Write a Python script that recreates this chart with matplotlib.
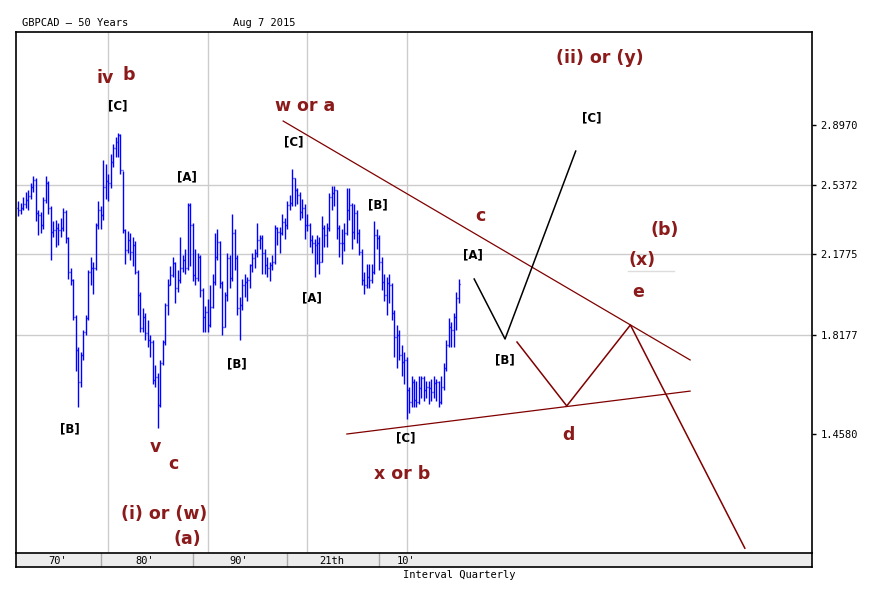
import numpy as np
import matplotlib
matplotlib.use('Agg')
import matplotlib.pyplot as plt

# quarterly GBPCAD, 1971 Q1 .. 2015 Q3
closes = [2.400, 2.411, 2.432, 2.454, 2.476, 2.526, 2.566, 2.384, 2.373, 2.321,
          2.454, 2.548, 2.411, 2.285, 2.296, 2.306, 2.296, 2.306, 2.389, 2.255,
          2.092, 2.054, 1.893, 1.758, 1.638, 1.739, 1.830, 1.888, 2.092, 2.110,
          2.110, 2.321, 2.400, 2.373, 2.526, 2.560, 2.548, 2.670, 2.755, 2.792,
          2.835, 2.623, 2.296, 2.196, 2.245, 2.186, 2.220, 2.092, 1.987, 1.846,
          1.893, 1.826, 1.798, 1.790, 1.645, 1.656, 1.556, 1.709, 1.790, 1.943,
          2.032, 2.077, 2.134, 2.018, 2.054, 2.110, 2.148, 2.110, 2.427, 2.321,
          2.077, 2.063, 2.162, 2.009, 1.893, 1.914, 1.859, 1.935, 2.045, 2.162,
          2.235, 2.041, 1.851, 1.987, 2.158, 2.063, 2.280, 2.158, 1.930, 1.943,
          2.032, 2.045, 2.054, 2.124, 2.158, 2.182, 2.245, 2.255, 2.182, 2.124,
          2.110, 2.124, 2.138, 2.306, 2.285, 2.280, 2.337, 2.321, 2.427, 2.438,
          2.577, 2.509, 2.481, 2.389, 2.411, 2.321, 2.321, 2.245, 2.230, 2.220,
          2.230, 2.138, 2.306, 2.270, 2.306, 2.470, 2.492, 2.509, 2.306, 2.230,
          2.230, 2.280, 2.400, 2.427, 2.285, 2.384, 2.280, 2.186, 2.054, 2.032,
          2.068, 2.054, 2.092, 2.270, 2.255, 2.138, 2.045, 1.987, 2.041, 2.032,
          1.909, 1.810, 1.818, 1.739, 1.712, 1.720, 1.609, 1.567, 1.638, 1.574,
          1.567, 1.616, 1.652, 1.609, 1.620, 1.616, 1.602, 1.634, 1.638, 1.567,
          1.620, 1.690, 1.778, 1.851, 1.838, 1.893, 1.974, 2.036]
highs = [2.45, 2.44, 2.47, 2.50, 2.51, 2.55, 2.59, 2.58, 2.40, 2.39,
         2.47, 2.59, 2.56, 2.42, 2.34, 2.35, 2.33, 2.36, 2.41, 2.40,
         2.26, 2.11, 2.06, 1.90, 1.77, 1.75, 1.84, 1.90, 2.10, 2.16,
         2.14, 2.33, 2.45, 2.42, 2.68, 2.66, 2.60, 2.72, 2.78, 2.82,
         2.85, 2.84, 2.62, 2.30, 2.29, 2.28, 2.26, 2.24, 2.10, 2.00,
         1.93, 1.91, 1.88, 1.82, 1.80, 1.70, 1.67, 1.72, 1.80, 1.95,
         2.06, 2.12, 2.16, 2.14, 2.10, 2.26, 2.17, 2.20, 2.44, 2.44,
         2.33, 2.20, 2.18, 2.17, 2.02, 1.94, 1.97, 2.03, 2.08, 2.28,
         2.30, 2.24, 2.05, 2.00, 2.18, 2.17, 2.38, 2.30, 2.17, 1.98,
         2.06, 2.08, 2.07, 2.13, 2.18, 2.20, 2.33, 2.27, 2.27, 2.20,
         2.16, 2.14, 2.17, 2.32, 2.31, 2.31, 2.38, 2.36, 2.45, 2.48,
         2.63, 2.58, 2.52, 2.50, 2.46, 2.43, 2.38, 2.33, 2.27, 2.25,
         2.27, 2.26, 2.37, 2.32, 2.33, 2.49, 2.53, 2.53, 2.51, 2.32,
         2.30, 2.33, 2.52, 2.52, 2.44, 2.43, 2.40, 2.30, 2.20, 2.09,
         2.13, 2.13, 2.13, 2.34, 2.30, 2.27, 2.16, 2.08, 2.07, 2.08,
         2.04, 1.92, 1.86, 1.84, 1.78, 1.75, 1.73, 1.62, 1.66, 1.65,
         1.64, 1.66, 1.66, 1.66, 1.64, 1.64, 1.65, 1.66, 1.65, 1.64,
         1.66, 1.71, 1.80, 1.89, 1.87, 1.91, 2.00, 2.06]
lows = [2.37, 2.38, 2.40, 2.41, 2.40, 2.46, 2.50, 2.34, 2.27, 2.28,
        2.30, 2.44, 2.38, 2.15, 2.26, 2.21, 2.22, 2.26, 2.29, 2.23,
        2.06, 2.03, 1.88, 1.68, 1.55, 1.62, 1.72, 1.82, 1.88, 2.03,
        1.99, 2.10, 2.30, 2.30, 2.35, 2.46, 2.45, 2.52, 2.64, 2.70,
        2.70, 2.60, 2.28, 2.13, 2.18, 2.15, 2.12, 2.08, 1.90, 1.83,
        1.83, 1.80, 1.77, 1.73, 1.63, 1.62, 1.48, 1.55, 1.70, 1.78,
        1.90, 2.03, 2.07, 1.95, 2.00, 2.04, 2.09, 2.08, 2.10, 2.12,
        2.05, 2.03, 2.05, 1.98, 1.83, 1.83, 1.83, 1.85, 1.93, 2.03,
        2.15, 2.02, 1.82, 1.85, 1.96, 2.02, 2.05, 2.10, 1.90, 1.80,
        1.92, 1.98, 1.96, 2.02, 2.09, 2.11, 2.16, 2.20, 2.08, 2.08,
        2.07, 2.05, 2.10, 2.13, 2.22, 2.18, 2.27, 2.25, 2.30, 2.40,
        2.42, 2.42, 2.43, 2.35, 2.36, 2.25, 2.29, 2.21, 2.18, 2.07,
        2.13, 2.08, 2.14, 2.21, 2.21, 2.29, 2.40, 2.42, 2.25, 2.16,
        2.13, 2.19, 2.27, 2.35, 2.20, 2.25, 2.23, 2.17, 2.03, 1.99,
        2.02, 2.02, 2.04, 2.08, 2.20, 2.10, 2.01, 1.96, 1.90, 1.95,
        1.88, 1.73, 1.69, 1.72, 1.66, 1.63, 1.51, 1.53, 1.55, 1.55,
        1.55, 1.56, 1.58, 1.57, 1.58, 1.56, 1.57, 1.58, 1.57, 1.55,
        1.56, 1.61, 1.68, 1.77, 1.77, 1.77, 1.84, 1.95]
first_open = 2.41

# wave projections (year, price)
upper_line_x = [1997.6, 2038.5]
upper_line_y = [2.925, 1.720]
lower_line_x = [2004.0, 2038.5]
lower_line_y = [1.459, 1.605]
black_path_x = [2016.8, 2019.9, 2027.0]
black_path_y = [2.059, 1.802, 2.736]
brown_path_x = [2021.1, 2026.1, 2032.5, 2044.0]
brown_path_y = [1.790, 1.553, 1.859, 1.132]

price_ticks = [1.4580, 1.8177, 2.1775, 2.5372, 2.8970]
grid_prices = [1.8177, 2.1775, 2.5372]
grid_years = [1980, 1990, 2000, 2010]
strip_seps = [1979.3, 1988.5, 1998.0, 2007.2]
strip_label_x = [1974.9, 1983.7, 1993.1, 2002.5, 2010.0]
strip_labels = ["70'", "80'", "90'", "21th", "10'"]

W, H = 873, 596
RED = '#8b1a1a'
mono = 'DejaVu Sans Mono'

fig = plt.figure(figsize=(W / 100, H / 100), dpi=100)
fig.patch.set_facecolor('white')

ax = fig.add_axes([16 / W, 1 - 553 / H, (812 - 16) / W, (553 - 32) / H])
ax.set_yscale('log')
ax.set_xlim(1970.75, 2050.75)
ax.set_ylim(1.12, 3.565)

for g in grid_years:
    ax.axvline(g, color='#cccccc', lw=1, zorder=0)
for g in grid_prices:
    ax.axhline(g, color='#cccccc', lw=1, zorder=0)

xs = 1971 + 0.25 * np.arange(len(closes))
opens = [first_open] + closes[:-1]
ax.vlines(xs, lows, highs, color='#0000ff', lw=1.0, zorder=3)
ax.hlines(opens, xs - 0.1, xs, color='#0000ff', lw=1.0, zorder=3)
ax.hlines(closes, xs, xs + 0.1, color='#0000ff', lw=1.0, zorder=3)

ax.plot(upper_line_x, upper_line_y, color='#800000', lw=0.9)
ax.plot(lower_line_x, lower_line_y, color='#800000', lw=0.9)
ax.plot(black_path_x, black_path_y, color='black', lw=1.1)
ax.plot(brown_path_x, brown_path_y, color='#800000', lw=1.1)

ax.yaxis.tick_right()
ax.set_yticks(price_ticks)
ax.set_yticklabels(['%.4f' % p for p in price_ticks], fontfamily=mono, fontsize=7.5)
ax.yaxis.set_minor_locator(matplotlib.ticker.NullLocator())
ax.tick_params(axis='y', length=3, width=1, pad=3)
ax.set_xticks([])
for s in ax.spines.values():
    s.set_linewidth(1.2)
ax.spines['bottom'].set_visible(False)

# bottom date strip
sx = fig.add_axes([16 / W, 1 - 567 / H, (812 - 16) / W, 14 / H])
sx.set_facecolor('#ececec')
sx.set_xlim(1970.75, 2050.75)
sx.set_ylim(0, 1)
for s in strip_seps:
    sx.axvline(s, color='#aaaaaa', lw=1)
for xl, lab in zip(strip_label_x, strip_labels):
    sx.text(xl, 0.45, lab, ha='center', va='center', fontsize=7.5, fontfamily=mono)
sx.set_xticks([])
sx.set_yticks([])
for s in sx.spines.values():
    s.set_linewidth(1.2)


def put(px, py, txt, size, color, bold=True, fam=None):
    fig.text(px / W, 1 - py / H, txt, ha='center', va='center', fontsize=size,
             color=color, fontweight='bold' if bold else 'normal',
             fontfamily=fam if fam else 'DejaVu Sans')


put(75, 23, 'GBPCAD – 50 Years', 7.5, 'black', False, mono)
put(264, 23, 'Aug 7 2015', 7.5, 'black', False, mono)
put(459, 575, 'Interval Quarterly', 7.5, 'black', False, mono)

# wave labels
waves = [(105, 78, 'iv'), (129, 75, 'b'), (155, 447, 'v'), (173, 464, 'c'),
         (164, 514, '(i) or (w)'), (187, 539, '(a)'), (305, 106, 'w or a'),
         (402, 474, 'x or b'), (480, 216, 'c'), (568, 435, 'd'),
         (600, 58, '(ii) or (y)'), (665, 230, '(b)'), (642, 260, '(x)'),
         (638, 292, 'e')]
for px, py, t in waves:
    put(px, py, t, 12.5, RED)

brackets = [(118, 106, '[C]'), (70, 429, '[B]'), (187, 177, '[A]'),
            (237, 364, '[B]'), (294, 142, '[C]'), (312, 298, '[A]'),
            (378, 205, '[B]'), (406, 438, '[C]'), (473, 255, '[A]'),
            (505, 360, '[B]'), (592, 118, '[C]')]
for px, py, t in brackets:
    put(px, py, t, 8.5, 'black')

fig.add_artist(plt.Line2D([628 / W, 674 / W], [1 - 271 / H, 1 - 271 / H],
                          color='#dddddd', lw=1))

fig.savefig('out.png', dpi=100)
